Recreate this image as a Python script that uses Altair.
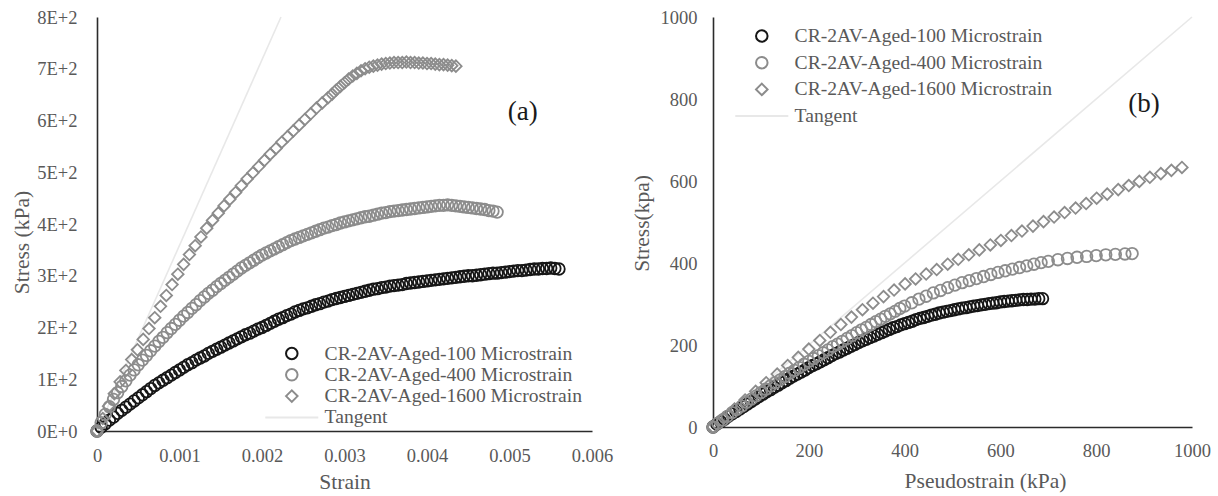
import altair as alt
import pandas as pd

# ---------------- names / styles ----------------
series_names = ["CR-2AV-Aged-100 Microstrain", "CR-2AV-Aged-400 Microstrain",
                "CR-2AV-Aged-1600 Microstrain", "Tangent"]
series_colors = ["#161616", "#8c8c8c", "#8c8c8c", "#e8e8e8"]
series_shapes = ["circle", "circle", "diamond", "M-4.6,0H4.6"]

# ---------------- panel (a): stress vs strain ----------------
a100_strain_ue = [0, 50, 100, 150, 200, 250, 300, 350, 400, 450, 500, 550, 600, 650, 700, 750, 800, 850, 900, 950,
                  1000, 1050, 1100, 1150, 1200, 1250, 1300, 1350, 1400, 1450, 1500, 1550, 1600, 1650, 1700, 1750, 1800, 1850, 1900, 1950,
                  2000, 2050, 2100, 2150, 2200, 2250, 2300, 2350, 2400, 2450, 2500, 2550, 2600, 2650, 2700, 2750, 2800, 2850, 2900, 2950,
                  3000, 3050, 3100, 3150, 3200, 3250, 3300, 3350, 3400, 3450, 3500, 3550, 3600, 3650, 3700, 3750, 3800, 3850, 3900, 3950,
                  4000, 4050, 4100, 4150, 4200, 4250, 4300, 4350, 4400, 4450, 4500, 4550, 4600, 4650, 4700, 4750, 4800, 4850, 4900, 4950,
                  5000, 5050, 5100, 5150, 5200, 5250, 5300, 5350, 5400, 5450, 5500, 5550, 5600]
a100_stress = [0, 7, 14, 21, 27, 34, 40, 46, 52, 58, 64, 70, 76, 82, 88, 93, 98, 103, 108, 113,
               118, 123, 128, 132, 137, 141, 145, 150, 154, 158, 162, 166, 170, 174, 178, 182, 186, 189, 193, 197,
               200, 204, 208, 212, 216, 219, 223, 226, 230, 233, 236, 238, 241, 244, 246, 249, 251, 254, 256, 258,
               260, 262, 264, 266, 268, 270, 272, 274, 275, 277, 278, 280, 281, 282, 283, 285, 286, 287, 288, 289,
               290, 291, 292, 293, 294, 295, 296, 297, 298, 299, 300, 300, 301, 302, 303, 304, 305, 305, 306, 307,
               308, 309, 310, 310, 311, 312, 313, 313, 314, 314, 315, 314, 313]

a400_strain_ue = [0, 50, 100, 150, 200, 250, 300, 350, 400, 450, 500, 550, 600, 650, 700, 750, 800, 850, 900, 950,
                  1000, 1050, 1100, 1150, 1200, 1250, 1300, 1350, 1400, 1450, 1500, 1550, 1600, 1650, 1700, 1750, 1800, 1850, 1900, 1950,
                  2000, 2050, 2100, 2150, 2200, 2250, 2300, 2350, 2400, 2450, 2500, 2550, 2600, 2650, 2700, 2750, 2800, 2850, 2900, 2950,
                  3000, 3050, 3100, 3150, 3200, 3250, 3300, 3350, 3400, 3450, 3500, 3550, 3600, 3650, 3700, 3750, 3800, 3850, 3900, 3950,
                  4000, 4050, 4100, 4150, 4200, 4250, 4300, 4350, 4400, 4450, 4500, 4550, 4600, 4650, 4700, 4750, 4800, 4850]
a400_stress = [0, 16, 32, 47, 61, 74, 86, 97, 108, 118, 128, 137, 146, 155, 164, 173, 181, 190, 198, 206,
               214, 222, 229, 237, 244, 252, 259, 266, 272, 279, 285, 291, 297, 303, 309, 315, 320, 325, 330, 335,
               340, 344, 348, 352, 356, 360, 364, 368, 371, 374, 377, 380, 383, 386, 389, 392, 394, 397, 399, 402,
               404, 406, 408, 410, 412, 414, 415, 417, 419, 421, 422, 424, 425, 426, 427, 428, 429, 430, 431, 432,
               433, 434, 435, 436, 436, 437, 436, 435, 434, 433, 432, 431, 430, 429, 428, 426, 425, 423]

a1600_strain_ue = [0, 70, 140, 210, 280, 350, 420, 490, 560, 630, 700, 770, 840, 910, 980, 1050, 1120, 1190, 1260, 1330,
                   1400, 1470, 1540, 1610, 1680, 1750, 1820, 1890, 1960, 2030, 2100, 2170, 2240, 2310, 2380, 2450, 2520, 2590,
                   2660, 2730, 2800, 2850, 2900, 2950, 3000, 3050, 3100, 3150, 3200, 3250, 3300, 3350, 3400, 3450, 3500, 3550,
                   3600, 3650, 3700, 3750, 3800, 3850, 3900, 3950, 4000, 4050, 4100, 4150, 4200, 4250, 4300, 4350]
a1600_stress = [0, 24, 48, 72, 95, 117, 138, 157, 177, 198, 219, 241, 262, 283, 303, 322, 341, 358, 375, 392,
                407, 421, 435, 448, 461, 474, 487, 499, 511, 523, 535, 546, 558, 569, 580, 591, 602, 613,
                624, 634, 644, 651, 659, 666, 673, 680, 686, 691, 696, 700, 703, 705, 707, 709, 710, 711,
                712, 712, 712, 713, 712, 712, 711, 711, 710, 710, 709, 708, 708, 707, 706, 705]

a_tangent_strain = [0, 0.00223]
a_tangent_stress = [0, 800]

a_xticks = [0, 0.001, 0.002, 0.003, 0.004, 0.005, 0.006]
a_yticks = [0, 100, 200, 300, 400, 500, 600, 700, 800]
a_label = ["(a)"]
a_label_x = [0.00516]
a_label_y = [616]

# ---------------- panel (b): stress vs pseudostrain ----------------
b100_pseudo = [0, 8, 16, 24, 32, 40, 48, 56, 64, 72, 80, 88, 96,
               104, 112, 120, 128, 136, 144, 152, 160, 168, 176, 184, 192,
               200, 208, 216, 224, 232, 240, 248, 256, 264, 272, 280, 288, 296,
               304, 312, 320, 328, 336, 344, 352, 360, 368, 376, 384, 392,
               400, 408, 416, 424, 432, 440, 448, 456, 464, 472, 480, 488, 496,
               504, 512, 520, 528, 536, 544, 552, 560, 568, 576, 584, 592,
               600, 608, 616, 624, 632, 640, 648, 656, 664, 672, 680, 688]
b100_stress = [0, 7, 13, 19, 26, 32, 38, 44, 50, 56, 62, 68, 74,
               80, 86, 91, 97, 102, 108, 113, 119, 124, 129, 134, 139,
               145, 150, 154, 159, 164, 169, 174, 179, 183, 188, 192, 197, 201,
               206, 210, 214, 218, 222, 226, 230, 234, 238, 242, 245, 249,
               252, 255, 258, 262, 265, 267, 270, 273, 275, 278, 280, 282, 284,
               286, 288, 290, 291, 293, 295, 296, 298, 299, 301, 302, 303,
               305, 306, 307, 308, 309, 310, 311, 311, 312, 312, 313, 313]

b400_pseudo = [0, 10, 20, 30, 40, 50, 60, 70, 80, 90, 100, 110, 120, 130, 140, 150, 160, 170, 180, 190,
               200, 210, 220, 230, 240, 250, 260, 270, 280, 290, 300, 310, 320, 330, 340, 350, 360, 370, 380, 390,
               400, 415, 430, 445, 460, 475, 490, 505, 520, 535, 550, 565, 580, 595,
               610, 625, 640, 655, 670, 685, 700, 720, 740, 760, 780, 800, 820, 840, 860, 875]
b400_stress = [0, 9, 17, 26, 35, 43, 51, 60, 68, 76, 84, 92, 100, 108, 115, 123, 131, 138, 145, 153,
               160, 167, 174, 181, 188, 196, 202, 209, 216, 223, 230, 237, 243, 250, 257, 263, 270, 276, 282, 289,
               295, 303, 312, 319, 327, 333, 340, 346, 352, 357, 362, 367, 372, 377,
               381, 385, 389, 393, 397, 401, 404, 408, 411, 414, 416, 418, 420, 421, 422, 423]

b1600_pseudo = [0, 22, 45, 67, 89, 111, 134, 156, 178, 200, 223, 245, 267, 289, 312, 334, 356, 378, 401,
                423, 445, 467, 490, 512, 534, 556, 579, 601, 623, 645, 668, 690, 712, 734, 757, 779, 801,
                823, 846, 868, 890, 912, 935, 957, 979]
b1600_stress = [0, 22, 44, 66, 87, 108, 129, 150, 170, 190, 211, 231, 250, 268, 286, 302, 318, 334, 349,
                361, 373, 384, 397, 409, 420, 432, 444, 455, 467, 478, 490, 501, 512, 523, 534, 545, 558,
                568, 579, 589, 599, 609, 618, 626, 633]

b_tangent_pseudo = [0, 1000]
b_tangent_stress = [0, 1000]

b_ticks = [0, 200, 400, 600, 800, 1000]
b_label = ["(b)"]
b_label_x = [900]
b_label_y = [788]

# ---------------- build tables ----------------
def frame(xs, ys, name, scale=1.0):
    return pd.DataFrame({"x": [v * scale for v in xs], "y": ys, "series": name})

a_points = pd.concat([
    frame(a100_strain_ue, a100_stress, series_names[0], 1e-6),
    frame(a400_strain_ue, a400_stress, series_names[1], 1e-6),
    frame(a1600_strain_ue, a1600_stress, series_names[2], 1e-6),
], ignore_index=True)
a_tan = frame(a_tangent_strain, a_tangent_stress, "Tangent")
a_txt = pd.DataFrame({"x": a_label_x, "y": a_label_y, "t": a_label})

b_points = pd.concat([
    frame(b100_pseudo, b100_stress, series_names[0]),
    frame(b400_pseudo, b400_stress, series_names[1]),
    frame(b1600_pseudo, b1600_stress, series_names[2]),
], ignore_index=True)
b_tan = frame(b_tangent_pseudo, b_tangent_stress, "Tangent")
b_txt = pd.DataFrame({"x": b_label_x, "y": b_label_y, "t": b_label})

FONT = "Liberation Serif"
GRAY = "#595959"


def panel(points, tan, txt, xscale, yscale, xaxis, yaxis, legend, w, h):
    line = alt.Chart(tan).mark_line(color="#e8e8e8", strokeWidth=1.6).encode(
        x=alt.X("x:Q", scale=xscale, axis=xaxis),
        y=alt.Y("y:Q", scale=yscale, axis=yaxis),
    )
    pts = alt.Chart(points).mark_point(filled=False, strokeWidth=1.8, opacity=1, size=133).encode(
        x=alt.X("x:Q", scale=xscale, axis=xaxis),
        y=alt.Y("y:Q", scale=yscale, axis=yaxis),
        color=alt.Color("series:N", scale=alt.Scale(domain=series_names, range=series_colors), legend=legend),
        shape=alt.Shape("series:N", scale=alt.Scale(domain=series_names, range=series_shapes), legend=legend),
    )
    lab = alt.Chart(txt).mark_text(font=FONT, fontSize=27, color="#1a1a1a").encode(
        x=alt.X("x:Q", scale=xscale, axis=xaxis),
        y=alt.Y("y:Q", scale=yscale, axis=yaxis),
        text="t:N",
    )
    return alt.layer(line, pts, lab).properties(width=w, height=h)


axis_common = dict(grid=False, ticks=False, labelFlush=False, labelOverlap=False,
                   domainColor="#2b2b2b", domainWidth=1.6,
                   labelFont=FONT, labelFontSize=18.5, labelColor=GRAY,
                   titleFont=FONT, titleFontSize=21.5, titleColor=GRAY, titleFontWeight="normal",
                   titleAlign="center", titleBaseline="middle")

a_xaxis = alt.Axis(values=a_xticks, title="Strain", titleX=247.5, titleY=51, labelPadding=15,
                   labelExpr="datum.value == 0 ? '0' : format(datum.value, '.3f')", **axis_common)
a_yaxis = alt.Axis(values=a_yticks, title="Stress (kPa)", titleX=-75, titleY=225, labelPadding=20,
                   labelExpr="datum.value == 0 ? '0E+0' : format(datum.value / 100, 'd') + 'E+2'", **axis_common)
b_xaxis = alt.Axis(values=b_ticks, title="Pseudostrain (kPa)", titleX=272, titleY=54, labelPadding=14,
                   format="d", **axis_common)
b_yaxis = alt.Axis(values=b_ticks, title="Stress(kpa)", titleX=-71, titleY=206, labelPadding=16,
                   format="d", **axis_common)

legend_common = dict(title=None, orient="none", padding=0, labelFont=FONT, labelFontSize=19.6,
                     labelColor=GRAY, labelLimit=500, symbolSize=133, symbolStrokeWidth=2,
                     symbolOffset=17, labelOffset=23)
a_legend = alt.Legend(legendX=168, legendY=326, clipHeight=21, rowPadding=0.3, **legend_common)
b_legend = alt.Legend(legendX=22, legendY=9, clipHeight=20, rowPadding=6.7, **legend_common)

left = panel(a_points, a_tan, a_txt,
             alt.Scale(domain=[0, 0.006], nice=False, zero=True),
             alt.Scale(domain=[0, 800], nice=False),
             a_xaxis, a_yaxis, a_legend, 495, 414)
right = panel(b_points, b_tan, b_txt,
              alt.Scale(domain=[0, 1000], nice=False),
              alt.Scale(domain=[0, 1000], nice=False),
              b_xaxis, b_yaxis, b_legend, 479, 410)

chart = alt.hconcat(left, right, spacing=121, bounds="flush").resolve_scale(
    x="independent", y="independent", color="independent", shape="independent"
).resolve_legend(
    color="independent", shape="independent"
).properties(
    padding={"left": 11, "top": 8, "right": 5, "bottom": 0},
    background="white",
).configure_view(stroke=None)

chart.save("out.html", embed_options={"renderer": "svg", "actions": False})
